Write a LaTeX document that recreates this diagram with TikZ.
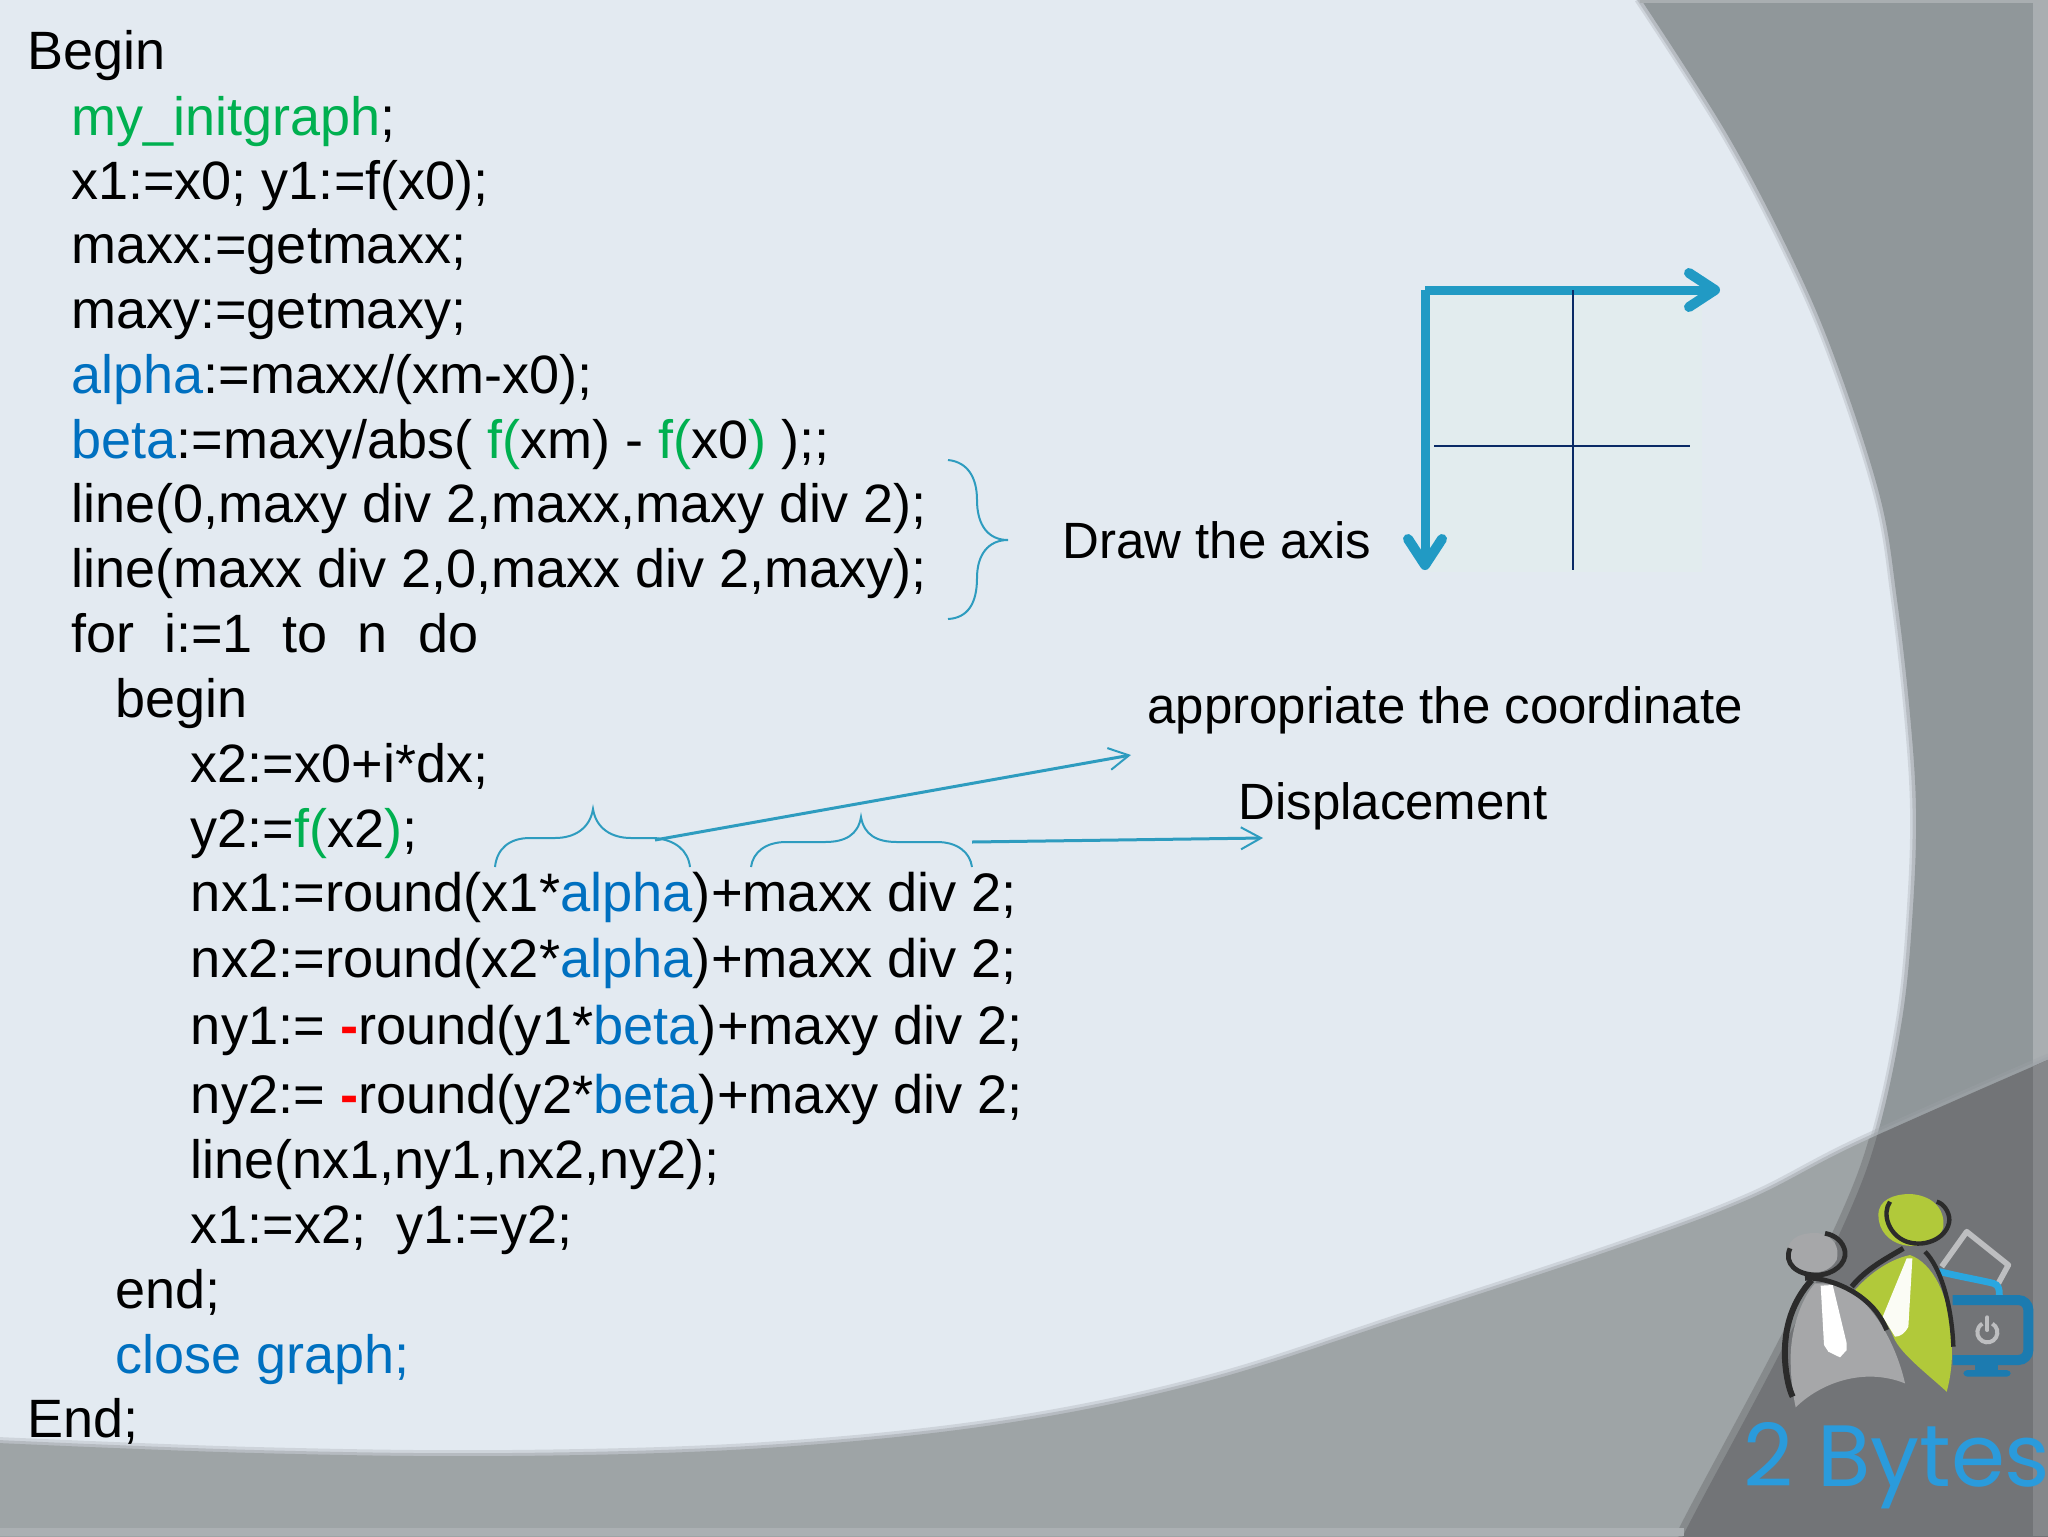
\documentclass[tikz,border=0pt]{standalone}
\usepackage{fontspec}
\setmainfont{Liberation Sans}
\newfontfamily\logofont{Poppins}
\usetikzlibrary{arrows.meta}
\definecolor{bgmain}{HTML}{E3EAF1}
\definecolor{boxtint}{HTML}{E2ECEE}
\definecolor{regA}{HTML}{90979A}
\definecolor{regB}{HTML}{9EA4A6}
\definecolor{regC}{HTML}{727477}
\definecolor{stripA}{HTML}{A9AEB1}
\definecolor{stripB}{HTML}{ABB0B3}
\definecolor{stripC}{HTML}{85878A}
\definecolor{axisblue}{HTML}{219AC4}
\definecolor{bracecol}{HTML}{2E9CBF}
\definecolor{navyline}{HTML}{0A2A66}
\definecolor{codegreen}{HTML}{00B050}
\definecolor{codeblue}{HTML}{0070C0}
\definecolor{limegreen}{HTML}{B1C93A}
\definecolor{persongray}{HTML}{A6A7A9}
\definecolor{monitorblue}{HTML}{1C7BB0}
\definecolor{barblue}{HTML}{2AA7E0}
\definecolor{logoblue}{HTML}{2A9BDC}
\definecolor{inkdark}{HTML}{2B2B2B}
\definecolor{softgray}{HTML}{BDBEC0}
\def\swooshpts{(1640,-2) (1727,134) (1793,260) (1837,364) (1880,497) (1897,600) (1910,715) (1916,810) (1913,906) (1903,1013) (1880,1125) (1848,1215) (1780,1353) (1700,1503) (1682,1538)}
\def\bandpts{(-2,1443) (255,1453) (510,1456) (765,1448) (1000,1424) (1204,1382) (1408,1317) (1612,1250) (1747,1200) (1860,1143) (2050,1059)}
\newcommand{\G}[1]{\textcolor{codegreen}{#1}}
\newcommand{\B}[1]{\textcolor{codeblue}{#1}}
\newcommand{\R}{\textcolor{red}{\textbf{-}}}
\tikzset{
  codeline/.style={anchor=base west,inner sep=0pt,font=\fontsize{27}{32}\selectfont,text=black},
  widecode/.style={codeline,font=\fontsize{27.12}{32}\selectfont},
  notelabel/.style={anchor=base west,inner sep=0pt,font=\fontsize{25.5}{30}\selectfont,text=black},
  axisline/.style={draw=axisblue,line width=4.5pt,-{Straight Barb[round,length=13pt,width=17pt,line width=5pt]}},
  gridline/.style={draw=navyline,line width=1pt},
  bracket/.style={draw=bracecol,line width=1pt},
  pointer/.style={draw=bracecol,line width=1.5pt,-{Straight Barb[length=10pt,width=11pt,line width=1pt]}}
}
\begin{document}
\begin{tikzpicture}[x=0.5pt,y=-0.5pt]
\useasboundingbox (0,0) rectangle (2048,1536);
% backdrop
\fill[bgmain] (0,0) rectangle (2048,1536);
\fill[boxtint] (1428,290) rectangle (1702,572);
\draw[line width=6pt,black!30!bgmain,opacity=.3] plot[smooth,tension=.6] coordinates {\swooshpts};
\draw[line width=3.5pt,black!30!bgmain,opacity=.5] plot[smooth,tension=.6] coordinates {\swooshpts};
\fill[regA] plot[smooth,tension=.6] coordinates {\swooshpts} -- (2050,1538) -- (2050,-2) -- cycle;
\fill[stripA] (2033,0) rectangle (2048,1100);
\fill[stripA] (1640,0) rectangle (2048,3);
\draw[line width=6pt,black!30!bgmain,opacity=.3] plot[smooth,tension=.6] coordinates {\bandpts};
\draw[line width=3pt,black!30!bgmain,opacity=.5] plot[smooth,tension=.6] coordinates {\bandpts};
\fill[regB] plot[smooth,tension=.6] coordinates {\bandpts} -- (2050,1538) -- (-2,1538) -- cycle;
\begin{scope}
  \clip plot[smooth,tension=.6] coordinates {\bandpts} -- (2050,1538) -- (-2,1538) -- cycle;
  \draw[line width=7pt,regC!55!regB] plot[smooth,tension=.6] coordinates {\swooshpts};
  \fill[regC] plot[smooth,tension=.6] coordinates {\swooshpts} -- (2050,1538) -- (2050,-2) -- cycle;
  \fill[stripC] (2033,0) rectangle (2048,1536);
\end{scope}
\fill[stripB] (0,1528) rectangle (1684,1536);
% code
\node[codeline] (l1) at (27,69.5) {Begin};
\node[codeline] (l2) at (71,135) {\G{my\_initgraph};};
\node[codeline] (l3) at (71,199) {x1:=x0; y1:=f(x0);};
\node[codeline] (l4) at (71,263) {maxx:=getmaxx;};
\node[codeline] (l5) at (71,328) {maxy:=getmaxy;};
\node[codeline] (l6) at (71,393) {\B{alpha}:=maxx/(xm-x0);};
\node[codeline] (l7) at (71,458) {\B{beta}:=maxy/abs( \G{f(}xm) - \G{f(}x0\G{)} );;};
\node[codeline] (l8) at (71,522) {line(0,maxy div 2,maxx,maxy div 2);};
\node[codeline] (l9) at (71,587) {line(maxx div 2,0,maxx div 2,maxy);};
\node[codeline] (l10) at (71,652) {for~~i:=1~~to~~n~~do};
\node[codeline] (l11) at (115.5,717) {begin};
\node[codeline] (l12) at (190.5,782) {x2:=x0+i*dx;};
\node[codeline] (l13) at (190.5,847) {y2:=\G{f(}x2\G{)};};
\node[widecode] (l14) at (190.5,911) {nx1:=round(x1*\B{alpha})+maxx div 2;};
\node[widecode] (l15) at (190.5,977) {nx2:=round(x2*\B{alpha})+maxx div 2;};
\node[widecode] (l16) at (190.5,1044) {ny1:= \R round(y1*\B{beta})+maxy div 2;};
\node[widecode] (l17) at (190.5,1113) {ny2:= \R round(y2*\B{beta})+maxy div 2;};
\node[codeline] (l18) at (190.5,1178) {line(nx1,ny1,nx2,ny2);};
\node[codeline] (l19) at (190.5,1243) {x1:=x2;~~y1:=y2;};
\node[codeline] (l20) at (115.5,1308) {end;};
\node[codeline] (l21) at (115.5,1373) {\B{close graph;}};
\node[codeline] (l22) at (27,1437) {End;};
% labels
\node[notelabel] (drawaxis) at (1062,558) {Draw the axis};
\node[notelabel] (approp) at (1147,723) {appropriate the coordinate};
\node[notelabel] (displ) at (1238,819) {Displacement};
% braces
\draw[bracket] (948,460) .. controls (968,462) and (977,478) .. (977,500) .. controls (977,525) and (988,540) .. (1008,540) .. controls (988,540) and (977,555) .. (977,578) .. controls (977,603) and (968,618) .. (948,619);
\draw[bracket] (495,867) .. controls (497,848) and (510,838) .. (530,838) -- (555,838) .. controls (575,838) and (590,828) .. (593,809) .. controls (596,828) and (611,838) .. (631,838) -- (655,838) .. controls (675,840) and (688,850) .. (690,867);
\draw[bracket] (751,867) .. controls (753,852) and (766,842) .. (786,842) -- (825,842) .. controls (845,842) and (858,835) .. (861,817) .. controls (864,835) and (877,842) .. (897,842) -- (937,842) .. controls (957,842) and (970,852) .. (972,867);
% pointers
\coordinate (ptrA) at (655,840);
\coordinate (ptrAend) at (1131,755);
\coordinate (ptrB) at (972,842);
\coordinate (ptrBend) at (1263,838);
\draw[pointer] (ptrA) -- (ptrAend);
\draw[pointer] (ptrB) -- (ptrBend);
% axes
\coordinate (origin) at (1425,290);
\coordinate (xtip) at (1720,290);
\coordinate (ytip) at (1425,570);
\draw[axisline] (origin) -- (xtip);
\draw[axisline] (origin) -- (ytip);
\coordinate (vtop) at (1573,290);
\coordinate (vbot) at (1573,570);
\coordinate (hleft) at (1434,446);
\coordinate (hright) at (1690,446);
\draw[gridline] (vtop) -- (vbot);
\draw[gridline] (hleft) -- (hright);
% logo
\begin{scope}[shift={(1680,1120)},x=0.16667pt,y=-0.16667pt]
  % laptop
  \draw[softgray,line width=2.8pt,line join=round] (785,440) -- (860,335) -- (985,435) -- (955,490);
  \draw[barblue,line width=3.4pt,line cap=round] (780,455) .. controls (840,470) and (900,480) .. (940,490) .. controls (955,495) and (958,505) .. (958,525);
  % monitor
  \draw[monitorblue,line width=5pt,rounded corners=5pt] (818,540) -- (1045,540) -- (1045,720) -- (818,720);
  \fill[monitorblue] (885,732) rectangle (955,752);
  \fill[monitorblue,rounded corners=2pt] (850,750) rectangle (992,770);
  \draw[softgray,line width=2pt] (922,637) ++(300:30) arc[start angle=300,end angle=600,radius=30];
  \draw[softgray,line width=2pt,line cap=round] (922,592) -- (922,630);
  % green person
  \fill[limegreen] (595,285) .. controls (595,240) and (640,222) .. (690,222) .. controls (750,225) and (795,260) .. (790,320) .. controls (780,365) and (720,385) .. (670,375) .. controls (625,365) and (595,330) .. (595,285) -- cycle;
  \draw[inkdark,line width=2.2pt] (630,245) .. controls (605,280) and (625,345) .. (680,365) .. controls (740,385) and (805,350) .. (808,300) .. controls (808,275) and (790,250) .. (770,245);
  \fill[limegreen] (690,405) .. controls (620,420) and (560,470) .. (525,510) .. controls (580,550) and (620,600) .. (640,650) .. controls (660,700) and (740,760) .. (800,815) .. controls (815,760) and (820,700) .. (812,630) .. controls (805,530) and (760,430) .. (690,405) -- cycle;
  \draw[inkdark,line width=2.6pt] (515,500) .. controls (560,445) and (620,415) .. (670,385);
  \draw[inkdark,line width=2.2pt] (735,395) .. controls (780,440) and (815,550) .. (820,680);
  \fill[white!95!limegreen] (680,415) -- (697,415) -- (685,620) .. controls (675,640) and (660,650) .. (645,650) -- (608,590) -- cycle;
  % gray person
  \fill[persongray] (322,395) .. controls (325,350) and (370,335) .. (420,340) .. controls (460,350) and (480,380) .. (470,420) .. controls (450,455) and (410,465) .. (370,450) .. controls (340,440) and (322,420) .. (322,395) -- cycle;
  \draw[inkdark,line width=2.4pt] (330,385) .. controls (310,430) and (350,465) .. (410,465) .. controls (460,465) and (500,430) .. (495,395) .. controls (490,365) and (465,345) .. (435,340);
  \fill[persongray] (405,490) .. controls (360,540) and (330,640) .. (332,720) .. controls (332,780) and (340,830) .. (347,862) .. controls (420,790) and (550,740) .. (675,790) .. controls (650,680) and (590,570) .. (520,520) .. controls (480,495) and (440,488) .. (405,490) -- cycle;
  \draw[inkdark,line width=3pt] (395,480) .. controls (340,540) and (310,620) .. (315,720) .. controls (318,770) and (328,810) .. (338,830);
  \draw[inkdark,line width=2.4pt] (375,475) .. controls (430,470) and (510,500) .. (560,545) .. controls (590,570) and (610,605) .. (620,630);
  \fill[white] (422,497) -- (458,495) -- (500,670) -- (500,690) -- (480,712) -- (445,695) -- (432,675) -- cycle;
  % name
  \node[anchor=base west,inner sep=0pt,font=\logofont\fontsize{43.5}{50}\selectfont,text=logoblue] (logoname) at (190,1098) {2 Bytes};
\end{scope}
\end{tikzpicture}
\end{document}
